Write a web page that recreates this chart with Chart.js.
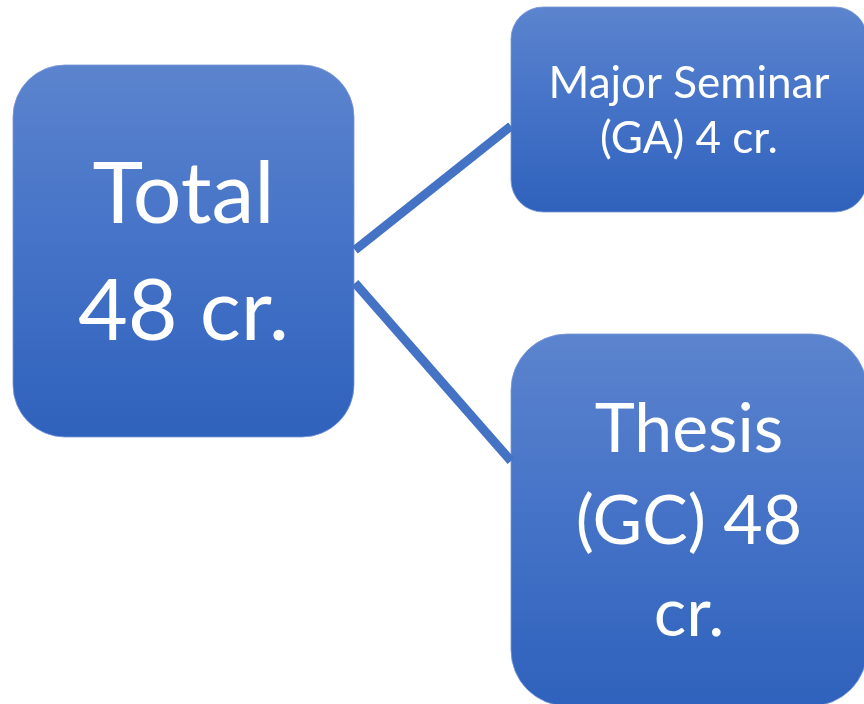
<!DOCTYPE html>
<html>
<head>
<meta charset="utf-8">
<script src="https://cdn.jsdelivr.net/npm/chart.js@4/dist/chart.umd.min.js"></script>
<style>
  html, body { margin:0; padding:0; background:#fff; }
  #wrap { width:864px; height:704px; }
</style>
</head>
<body>
<div id="wrap"><canvas id="chart" width="864" height="704"></canvas></div>
<script>
/* ── DATA (diagram coordinates, x right / y down) ── */
var nodeLabels = [['Total', '48 cr.'], ['Major Seminar', '(GA) 4 cr.'], ['Thesis', '(GC) 48', 'cr.']];
var nodeLeft   = [13, 511, 511];
var nodeRight  = [354, 867, 867];
var nodeTop    = [65, 7, 334];
var nodeBottom = [437, 212, 706];

// connectors: from Total to each child
var linkFrom = [[355, 250], [355, 283]];
var linkTo   = [[511, 126], [511, 461]];

/* ── STYLE ── */
var FONT    = 'Lato, "Open Sans", sans-serif';
var nodeStyle = [
  { radius: 52, size: 86, lineH: 117 },
  { radius: 32, size: 44, lineH: 55 },
  { radius: 56, size: 68, lineH: 92 }
];
var LINK_COLOR = '#4472c4';

var linkSets = linkFrom.map(function(p, i){
  return {
    data: [{ x: p[0], y: p[1] }, { x: linkTo[i][0], y: linkTo[i][1] }],
    showLine: true, borderColor: LINK_COLOR, borderWidth: 9,
    pointRadius: 0, borderCapStyle: 'butt', clip: false
  };
});

function roundRect(ctx, x0, y0, x1, y1, r){
  ctx.beginPath();
  ctx.moveTo(x0 + r, y0);
  ctx.lineTo(x1 - r, y0);
  ctx.arcTo(x1, y0, x1, y0 + r, r);
  ctx.lineTo(x1, y1 - r);
  ctx.arcTo(x1, y1, x1 - r, y1, r);
  ctx.lineTo(x0 + r, y1);
  ctx.arcTo(x0, y1, x0, y1 - r, r);
  ctx.lineTo(x0, y0 + r);
  ctx.arcTo(x0, y0, x0 + r, y0, r);
  ctx.closePath();
}

// boxes are drawn under the connectors
var nodePlugin = {
  id: 'nodes',
  beforeDatasetsDraw: function(chart){
    var ctx = chart.ctx, sx = chart.scales.x, sy = chart.scales.y;
    nodeLabels.forEach(function(lines, i){
      var x0 = sx.getPixelForValue(nodeLeft[i]),  x1 = sx.getPixelForValue(nodeRight[i]);
      var y0 = sy.getPixelForValue(nodeTop[i]),   y1 = sy.getPixelForValue(nodeBottom[i]);
      var st = nodeStyle[i];
      ctx.save();
      var g = ctx.createLinearGradient(0, y0, 0, y1);
      g.addColorStop(0, '#5c84ce');
      g.addColorStop(0.5, '#4472c7');
      g.addColorStop(1, '#2f62bc');
      roundRect(ctx, x0, y0, x1, y1, st.radius);
      ctx.fillStyle = g;
      ctx.fill();
      ctx.lineWidth = 1;
      ctx.strokeStyle = 'rgba(120,150,215,0.8)';
      ctx.stroke();

      ctx.fillStyle = '#ffffff';
      ctx.font = st.size + 'px ' + FONT;
      ctx.textAlign = 'center';
      ctx.textBaseline = 'alphabetic';
      var cap = st.size * 0.72;
      var block = cap + (lines.length - 1) * st.lineH;
      var cx = (x0 + x1) / 2, cy = (y0 + y1) / 2;
      var base = cy - block / 2 + cap;
      lines.forEach(function(t, k){
        ctx.fillText(t, cx, base + k * st.lineH);
      });
      ctx.restore();
    });
  }
};

new Chart(document.getElementById('chart'), {
  type: 'scatter',
  data: { datasets: linkSets },
  options: {
    responsive: false,
    animation: false,
    layout: { padding: 0 },
    plugins: { legend: { display: false }, tooltip: { enabled: false } },
    scales: {
      x: { type: 'linear', min: 0, max: 864, display: false },
      y: { type: 'linear', min: 0, max: 704, reverse: true, display: false }
    }
  },
  plugins: [nodePlugin]
});
</script>
</body>
</html>
